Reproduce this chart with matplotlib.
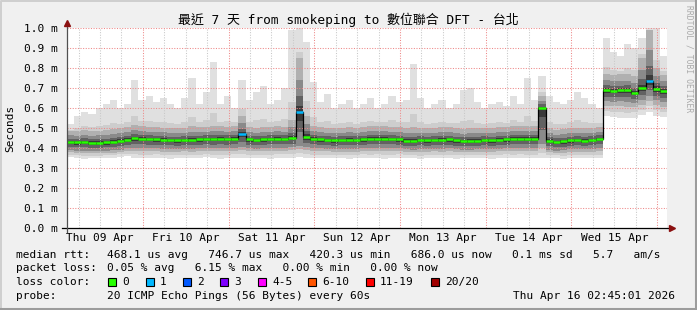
import datetime as dt
import matplotlib.pyplot as plt
from matplotlib.patches import Rectangle

# time range shown on the graph (7 days), data in 2 hour bins
t_start = dt.datetime(2026, 4, 9, 2, 45, 1)
t_end = dt.datetime(2026, 4, 16, 2, 45, 1)
bin_hours = 2

# median rtt per bin (ms)
median_ms = [0.430, 0.428, 0.430, 0.427, 0.426, 0.428, 0.431, 0.436,
             0.442, 0.448, 0.447, 0.445, 0.444, 0.441, 0.439, 0.438,
             0.440, 0.441, 0.443, 0.445, 0.444, 0.446, 0.445, 0.447,
             0.470, 0.443, 0.440, 0.443, 0.445, 0.447, 0.445, 0.450,
             0.580, 0.455, 0.445, 0.443, 0.440, 0.438, 0.440, 0.442,
             0.440, 0.443, 0.446, 0.447, 0.447, 0.445, 0.443, 0.437,
             0.435, 0.440, 0.438, 0.440, 0.442, 0.443, 0.438, 0.434,
             0.435, 0.437, 0.440, 0.438, 0.442, 0.443, 0.445, 0.446,
             0.447, 0.445, 0.600, 0.436, 0.430, 0.433, 0.438, 0.440,
             0.437, 0.440, 0.445, 0.690, 0.686, 0.688, 0.688, 0.676,
             0.698, 0.735, 0.695, 0.685]
# fastest ping per bin
lo_ms = [0.355, 0.350, 0.345, 0.350, 0.348, 0.352, 0.350, 0.355,
         0.358, 0.352, 0.350, 0.348, 0.352, 0.350, 0.347, 0.350,
         0.352, 0.348, 0.350, 0.353, 0.350, 0.347, 0.350, 0.352,
         0.350, 0.348, 0.352, 0.350, 0.347, 0.350, 0.352, 0.350,
         0.355, 0.350, 0.348, 0.350, 0.352, 0.348, 0.350, 0.347,
         0.350, 0.352, 0.349, 0.350, 0.346, 0.350, 0.352, 0.348,
         0.350, 0.345, 0.350, 0.352, 0.348, 0.350, 0.347, 0.350,
         0.352, 0.348, 0.350, 0.346, 0.350, 0.352, 0.349, 0.350,
         0.348, 0.350, 0.350, 0.352, 0.350, 0.345, 0.348, 0.350,
         0.352, 0.348, 0.350, 0.560, 0.555, 0.550, 0.548, 0.552,
         0.565, 0.580, 0.560, 0.555]
# lower / upper quartile
q1_ms = [0.388, 0.386, 0.387, 0.385, 0.384, 0.386, 0.389, 0.392,
         0.398, 0.402, 0.400, 0.399, 0.398, 0.396, 0.395, 0.394,
         0.396, 0.397, 0.398, 0.400, 0.399, 0.400, 0.399, 0.401,
         0.405, 0.398, 0.396, 0.398, 0.400, 0.401, 0.400, 0.404,
         0.410, 0.405, 0.400, 0.398, 0.396, 0.394, 0.396, 0.397,
         0.396, 0.398, 0.400, 0.401, 0.401, 0.400, 0.398, 0.393,
         0.392, 0.395, 0.394, 0.396, 0.397, 0.398, 0.394, 0.390,
         0.391, 0.393, 0.395, 0.394, 0.397, 0.398, 0.400, 0.401,
         0.401, 0.400, 0.420, 0.392, 0.387, 0.390, 0.394, 0.396,
         0.393, 0.396, 0.400, 0.635, 0.632, 0.633, 0.632, 0.625,
         0.640, 0.660, 0.640, 0.630]
q3_ms = [0.485, 0.485, 0.490, 0.486, 0.487, 0.490, 0.494, 0.498,
         0.505, 0.515, 0.508, 0.506, 0.505, 0.502, 0.500, 0.499,
         0.502, 0.508, 0.505, 0.507, 0.512, 0.508, 0.506, 0.512,
         0.560, 0.505, 0.502, 0.506, 0.507, 0.508, 0.507, 0.540,
         0.850, 0.560, 0.510, 0.505, 0.502, 0.500, 0.502, 0.504,
         0.502, 0.505, 0.508, 0.510, 0.509, 0.507, 0.505, 0.500,
         0.505, 0.502, 0.500, 0.502, 0.505, 0.506, 0.500, 0.497,
         0.500, 0.499, 0.502, 0.500, 0.505, 0.506, 0.508, 0.508,
         0.512, 0.508, 0.660, 0.500, 0.492, 0.495, 0.500, 0.502,
         0.500, 0.502, 0.505, 0.770, 0.765, 0.768, 0.770, 0.760,
         0.850, 0.990, 0.800, 0.765]
# slowest ping per bin
hi_ms = [0.52, 0.56, 0.58, 0.57, 0.60, 0.62, 0.64, 0.60,
         0.62, 0.74, 0.64, 0.66, 0.63, 0.65, 0.62, 0.60,
         0.65, 0.75, 0.62, 0.68, 0.83, 0.62, 0.66, 0.60,
         0.74, 0.64, 0.68, 0.71, 0.62, 0.64, 0.70, 0.99,
         1.00, 0.93, 0.73, 0.63, 0.67, 0.60, 0.62, 0.64,
         0.60, 0.62, 0.65, 0.60, 0.62, 0.66, 0.63, 0.64,
         0.82, 0.65, 0.60, 0.62, 0.64, 0.60, 0.62, 0.69,
         0.70, 0.63, 0.60, 0.62, 0.63, 0.61, 0.66, 0.62,
         0.75, 0.64, 0.76, 0.66, 0.63, 0.62, 0.64, 0.68,
         0.65, 0.62, 0.60, 0.95, 0.88, 0.86, 0.92, 0.90,
         0.95, 1.00, 1.00, 0.86]
# bins where the median line shows one lost ping
loss_one_bins = [24, 32, 81]

day_labels = ['Thu 09 Apr', 'Fri 10 Apr', 'Sat 11 Apr', 'Sun 12 Apr',
              'Mon 13 Apr', 'Tue 14 Apr', 'Wed 15 Apr']
y_ticks = [0.0, 0.1, 0.2, 0.3, 0.4, 0.5, 0.6, 0.7, 0.8, 0.9, 1.0]

loss_names = ['0', '1', '2', '3', '4-5', '6-10', '11-19', '20/20']
loss_colors = ['#26ff00', '#00b8ff', '#0059ff', '#7e00ff', '#ff00ff',
               '#ff5500', '#ff0000', '#a10000']

rtt_stats = '468.1 us avg   746.7 us max   420.3 us min   686.0 us now   0.1 ms sd   5.7   am/s'
loss_stats = '0.05 % avg   6.15 % max   0.00 % min   0.00 % now'
probe_text = '20 ICMP Echo Pings (56 Bytes) every 60s'
stamp = 'Thu Apr 16 02:45:01 2026'

W, H = 697, 310
mono = 'DejaVu Sans Mono'
fs = 8.0


def fx(x):
    return x / W


def fy(y):
    return 1 - y / H


def hrs(t):
    return (t - t_start).total_seconds() / 3600.0


def band(bottom, top, color):
    ax.bar(x, [a - c for a, c in zip(top, bottom)], bottom=bottom, width=bin_hours,
           align='edge', color=color, lw=0, zorder=2)


fig = plt.figure(figsize=(W / 100, H / 100), dpi=100, facecolor='#f0f0f0')
ax = fig.add_axes([fx(67), fy(228), 600 / W, 200 / H])
ax.set_facecolor('white')
for s in ax.spines.values():
    s.set_visible(False)
ax.set_xlim(0, hrs(t_end))
ax.set_ylim(0, 1.0)

n = len(median_ms)
x = [i * bin_hours for i in range(n)]

# smoke, lightest outside, darkest around the median
band(lo_ms, hi_ms, '#e0e0e0')
band([l + 0.35 * (q - l) for l, q in zip(lo_ms, q1_ms)],
     [q + 0.2 * (h - q) for q, h in zip(q3_ms, hi_ms)], '#cdcdcd')
band([l + 0.7 * (q - l) for l, q in zip(lo_ms, q1_ms)], q3_ms, '#b0b0b0')
band(q1_ms, [m + 0.6 * (q - m) for m, q in zip(median_ms, q3_ms)], '#8a8a8a')
band([q + 0.4 * (m - q) for q, m in zip(q1_ms, median_ms)],
     [m + 0.3 * (q - m) for m, q in zip(median_ms, q3_ms)], '#626262')
band([q + 0.75 * (m - q) for q, m in zip(q1_ms, median_ms)],
     [m + 0.12 * (q - m) for m, q in zip(median_ms, q3_ms)], '#3a3a3a')

# grid
for v in y_ticks[1:]:
    ax.axhline(v, color='#ee8888', lw=0.75, ls=(0, (1, 1.5)), zorder=3)
day = dt.datetime(2026, 4, 9)
while day < t_end:
    for hh in (6, 12, 18):
        h6 = hrs(day + dt.timedelta(hours=hh))
        if 0 < h6 < hrs(t_end):
            ax.axvline(h6, color='#c8c8c8', lw=0.75, ls=(0, (1, 1.5)), zorder=3)
    day += dt.timedelta(days=1)
    ax.axvline(hrs(day), color='#ee8888', lw=0.75, ls=(0, (1, 1.5)), zorder=3)

# median line coloured by loss, black risers between steps
edges = x + [n * bin_hours]
ax.stairs(median_ms, edges, color='black', lw=0.9, baseline=None, zorder=4)
seg_colors = [loss_colors[1] if i in loss_one_bins else loss_colors[0] for i in range(n)]
ax.hlines(median_ms, x, [v + bin_hours for v in x], colors=seg_colors, lw=1.8, zorder=5)

ax.set_yticks(y_ticks)
ax.set_yticklabels(['%.1f m' % v for v in y_ticks], family=mono, fontsize=fs)
ax.tick_params(axis='y', length=0, pad=6.5)
noons = [hrs(dt.datetime(2026, 4, 9 + i, 12)) for i in range(len(day_labels))]
ax.set_xticks(noons)
ax.set_xticklabels(day_labels, family=mono, fontsize=fs)
ax.tick_params(axis='x', length=0, pad=3.5)

# axes with arrows
fig.add_artist(plt.Line2D([fx(62), fx(670)], [fy(228), fy(228)], color='black', lw=0.9))
fig.add_artist(plt.Line2D([fx(67), fx(67)], [fy(232), fy(24)], color='#505050', lw=0.9))
fig.add_artist(plt.Line2D([fx(672)], [fy(228)], marker='>', ms=4.5, color='#8b1010', lw=0))
fig.add_artist(plt.Line2D([fx(67)], [fy(23)], marker='^', ms=4.5, color='#8b1010', lw=0))

fig.text(fx(348), fy(20), '最近 7 天 from smokeping to 數位聯合 DFT - 台北',
         family=[mono, 'Noto Sans CJK TC'], fontsize=9.3, ha='center', va='center')
fig.text(fx(10), fy(128), 'Seconds', family=mono, fontsize=fs, rotation=90,
         ha='center', va='center')
fig.text(fx(689), fy(5), 'RRDTOOL / TOBI OETIKER', family=mono, fontsize=5.8,
         color='#aaaaaa', rotation=270, ha='center', va='top')

# legend lines
rows = [
    (255, [(16, 'median rtt:'), (107, rtt_stats)]),
    (268, [(16, 'packet loss:'), (107, loss_stats)]),
    (282, [(16, 'loss color:')]),
    (296, [(16, 'probe:'), (107, probe_text), (513, stamp)]),
]
for yy, items in rows:
    for xx, s in items:
        fig.text(fx(xx), fy(yy), s, family=mono, fontsize=fs, ha='left', va='center')

box_x = [108, 146, 183, 220, 258, 308, 366, 431]
for bx, c, name in zip(box_x, loss_colors, loss_names):
    fig.add_artist(Rectangle((fx(bx), fy(286)), 8 / W, 8 / H, facecolor=c,
                             edgecolor='black', lw=0.8))
    fig.text(fx(bx + 14), fy(282), name, family=mono, fontsize=fs, ha='left', va='center')

# 3d frame
fig.add_artist(plt.Line2D([fx(0.5), fx(0.5), fx(W)], [fy(H), fy(0.5), fy(0.5)],
                          color='#cfcfcf', lw=1.4))
fig.add_artist(plt.Line2D([fx(1), fx(W - 1.5), fx(W - 1.5)], [fy(H - 1.5), fy(H - 1.5), fy(0)],
                          color='#9c9c9c', lw=2.2))

fig.savefig('out.png', dpi=100, facecolor=fig.get_facecolor())
